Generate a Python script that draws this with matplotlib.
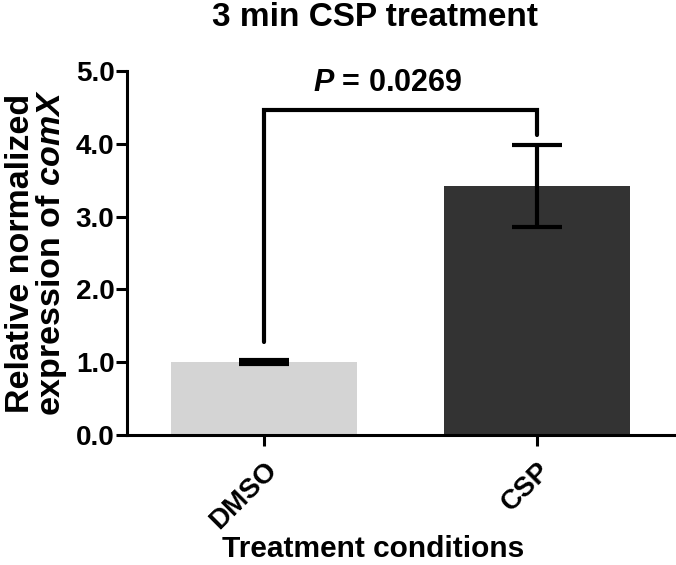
import matplotlib
matplotlib.use("Agg")
import matplotlib.pyplot as plt
from matplotlib.transforms import ScaledTranslation

categories = ["DMSO", "CSP"]
means = [1.0, 3.42]
errors = [0.025, 0.565]
bar_colors = ["#d4d4d4", "#333333"]
p_text = "0.0269"
bracket_left = 1.28
bracket_top = 4.46
bracket_right = 4.12
yticks = [0.0, 1.0, 2.0, 3.0, 4.0, 5.0]

plt.rcParams["font.family"] = ["Liberation Sans", "DejaVu Sans"]
plt.rcParams["font.weight"] = "bold"
plt.rcParams["mathtext.fontset"] = "custom"
plt.rcParams["mathtext.rm"] = "Liberation Sans:bold"
plt.rcParams["mathtext.it"] = "Liberation Sans:italic:bold"
plt.rcParams["mathtext.bf"] = "Liberation Sans:bold"
plt.rcParams["mathtext.bfit"] = "Liberation Sans:italic:bold"

W, H = 676, 565
fig = plt.figure(figsize=(W / 100, H / 100), dpi=100)
ax = fig.add_axes([127 / W, 1 - 435 / H, (674 - 127) / W, (435 - 71) / H])

x = list(range(len(categories)))
ax.bar(x, means, width=0.68, color=bar_colors, zorder=1)
ax.errorbar(x, means, yerr=errors, fmt="none", ecolor="black", elinewidth=3,
            capsize=18, capthick=3, zorder=3)

ax.plot([x[0], x[0], x[1], x[1]],
        [bracket_left, bracket_top, bracket_top, bracket_right],
        color="black", lw=3, solid_joinstyle="miter", solid_capstyle="round",
        clip_on=False, zorder=4)

ax.text(0.454, 4.83, r"$\mathit{P}$ = " + p_text,
        ha="center", va="center", fontsize=22, fontweight="bold")

ax.set_xlim(-0.5, 1.5)
ax.set_ylim(0, 5.0)
ax.set_yticks(yticks)
ax.set_yticklabels([f"{v:.1f}" for v in yticks], fontsize=20, fontweight="bold")
ax.set_xticks(x)
ax.set_xticklabels(categories, rotation=45, ha="right", rotation_mode="anchor",
                   fontsize=20, fontweight="bold")
shift = ScaledTranslation(-4 / 100, 0, fig.dpi_scale_trans)
for lab in ax.get_xticklabels():
    lab.set_transform(lab.get_transform() + shift)

for s in ["top", "right"]:
    ax.spines[s].set_visible(False)
for s in ["left", "bottom"]:
    ax.spines[s].set_linewidth(2.2)
ax.tick_params(axis="both", width=2.2, length=8, direction="out")
ax.tick_params(axis="y", pad=1)
ax.tick_params(axis="x", pad=8)

ax.set_ylabel("Relative normalized\nexpression of " + r"$\mathit{comX}$",
              fontsize=24.5, fontweight="bold", labelpad=5, linespacing=0.92)

fig.text(373 / W, 1 - 557 / H, "Treatment conditions", ha="center", va="baseline",
         fontsize=21.5, fontweight="bold")
fig.text(375 / W, 1 - 18 / H, "3 min CSP treatment", ha="center", va="center",
         fontsize=24, fontweight="bold")

fig.savefig("out.png", dpi=100)
